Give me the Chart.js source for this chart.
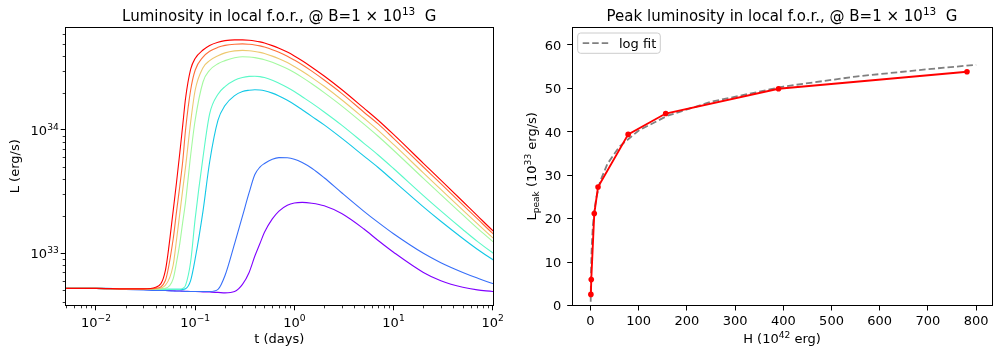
<!DOCTYPE html>
<html>
<head>
<meta charset="utf-8">
<script src="https://cdn.jsdelivr.net/npm/chart.js@4.4.1/dist/chart.umd.min.js"></script>
<style>
  html, body { margin: 0; padding: 0; background: #fff; }
  #wrap { position: relative; width: 996px; height: 354px; overflow: hidden; }
  #leftBox { position: absolute; left: 0; top: 0; width: 520px; height: 354px; }
  #rightBox { position: absolute; left: 520px; top: 0; width: 476px; height: 354px; }
</style>
</head>
<body>
<div id="wrap">
  <div id="leftBox"><canvas id="lumChart" width="520" height="354"></canvas></div>
  <div id="rightBox"><canvas id="peakChart" width="476" height="354"></canvas></div>
</div>
<script>
// === Light curves: t in days, L in units of 1e33 erg/s ===
const times = [0.005, 0.01, 0.02, 0.03, 0.04, 0.05, 0.06, 0.065, 0.07, 0.075, 0.08, 0.09, 0.1, 0.12, 0.14, 0.17, 0.2, 0.25, 0.3,
  0.35, 0.4, 0.45, 0.5, 0.6, 0.7, 0.85, 1, 1.2, 1.5, 2, 3, 5, 7, 10, 20, 30, 50, 70, 100, 110];

const lumPurple = [0.52, 0.52, 0.515, 0.51, 0.505, 0.5, 0.497, 0.495, 0.495, 0.493, 0.492, 0.49, 0.49, 0.487, 0.485, 0.482, 0.478, 0.49, 0.56,
  0.7, 0.95, 1.2, 1.48, 1.9, 2.2, 2.45, 2.56, 2.59, 2.55, 2.43, 2.1, 1.58, 1.27, 1.02, 0.7, 0.6, 0.53, 0.505, 0.49, 0.485];
const lumBlue = [0.52, 0.52, 0.51, 0.505, 0.5, 0.5, 0.495, 0.495, 0.495, 0.495, 0.49, 0.49, 0.49, 0.49, 0.49, 0.51, 0.66, 1.2, 2.0,
  3.1, 4.35, 5.0, 5.35, 5.8, 5.97, 5.95, 5.8, 5.45, 4.9, 4.1, 3.1, 2.2, 1.78, 1.44, 1.0, 0.84, 0.7, 0.63, 0.57, 0.56];
const lumCyan = [0.52, 0.52, 0.515, 0.51, 0.51, 0.51, 0.51, 0.51, 0.51, 0.51, 0.515, 0.6, 0.9, 2.2, 5.5, 12, 15.8, 19, 20.5,
  21.0, 21.2, 21.1, 20.8, 19.9, 18.9, 17.4, 16.1, 14.6, 12.9, 11.0, 8.58, 6.17, 4.96, 3.87, 2.38, 1.82, 1.32, 1.08, 0.89, 0.85];
const lumAqua = [0.52, 0.52, 0.515, 0.51, 0.51, 0.51, 0.51, 0.51, 0.51, 0.52, 0.55, 0.85, 1.9, 6, 13.5, 19.5, 22.5, 25.3, 26.6,
  27.2, 27.3, 27.1, 26.6, 25.3, 23.9, 22.1, 20.5, 18.6, 16.5, 14.0, 10.95, 7.83, 6.27, 4.87, 2.94, 2.21, 1.56, 1.25, 1.01, 0.96];
const lumGreen = [0.52, 0.52, 0.515, 0.515, 0.515, 0.52, 0.62, 0.85, 1.2, 1.8, 2.6, 6.2, 12, 24.5, 30.5, 34.5, 36.5, 38.5, 39.3,
  39.1, 38.6, 37.9, 37.1, 35.4, 33.7, 31.4, 29.2, 26.7, 23.7, 20.1, 15.7, 11.2, 8.89, 6.85, 4.05, 2.99, 2.05, 1.6, 1.25, 1.17];
const lumOrange = [0.52, 0.52, 0.515, 0.515, 0.515, 0.55, 0.8, 1.3, 2.1, 3.3, 5, 11.5, 21, 32, 36.5, 40, 42.2, 43.8, 44.2,
  43.9, 43.3, 42.6, 41.7, 39.7, 37.8, 35.2, 32.7, 29.9, 26.6, 22.6, 17.6, 12.5, 9.93, 7.63, 4.49, 3.3, 2.24, 1.74, 1.34, 1.26];
const lumRedOrange = [0.52, 0.52, 0.515, 0.515, 0.52, 0.6, 1.3, 2.2, 3.5, 5.6, 10, 21, 30.5, 39, 43.5, 46.8, 48.5, 49.6, 49.9,
  49.5, 48.9, 48.1, 47.0, 44.8, 42.7, 39.7, 36.9, 33.8, 30.0, 25.4, 19.8, 14.0, 11.2, 8.56, 5.01, 3.67, 2.47, 1.91, 1.45, 1.36];
const lumRed = [0.52, 0.52, 0.515, 0.515, 0.53, 0.72, 2.2, 3.8, 6.5, 11, 18, 31, 38, 44.5, 48.5, 51.5, 53, 53.8, 53.8,
  53.4, 52.7, 51.8, 50.7, 48.3, 46.0, 42.8, 39.8, 36.4, 32.3, 27.4, 21.3, 15.1, 12.0, 9.2, 5.37, 3.92, 2.63, 2.02, 1.53, 1.43];

const curves = [lumPurple, lumBlue, lumCyan, lumAqua, lumGreen, lumOrange, lumRedOrange, lumRed];
const curveColors = ["#8000ff", "#376ff9", "#12c8e6", "#5bf9c8", "#a4f99f", "#edc86f", "#ff6f39", "#ff0000"];

// === Peak luminosity vs heat (H in 1e42 erg, L in 1e33 erg/s) ===
const heatH = [0.78, 1.56, 7.8, 15.6, 78.1, 156, 390, 781];
const peakL = [2.6, 6.0, 21.2, 27.3, 39.4, 44.2, 49.9, 53.8];
const fitH = [0.45, 0.6, 0.8, 1, 1.5, 2, 3, 5, 8, 12, 20, 35, 60, 100, 160, 250, 400, 550, 700, 800];
const fitL = [0.9, 3.0, 5.1, 6.7, 9.7, 11.8, 14.7, 18.5, 21.9, 24.8, 28.6, 32.6, 36.6, 40.3, 43.7, 46.9, 50.4, 52.7, 54.4, 55.4];

// === Ticks ===
const leftXTicks = [0.01, 0.1, 1, 10, 100];
const leftXExp = ["−2", "−1", "0", "1", "2"];
const leftYTicks = [1, 10];
const leftYExp = ["33", "34"];
const rightXTicks = [0, 100, 200, 300, 400, 500, 600, 700, 800];
const rightYTicks = [0, 10, 20, 30, 40, 50, 60];

const FONT = "'DejaVu Sans', sans-serif";
const TXT = 13;
const TITLE = 15;

// === Rich text (super/subscripts) ===
function drawRich(ctx, parts, x, y, size, rotate, align) {
  ctx.save();
  ctx.translate(x, y);
  if (rotate) ctx.rotate(-Math.PI / 2);
  const fontFor = (kind) => `${kind === "n" ? size : size * 0.7}px ${FONT}`;
  const widths = parts.map(([txt, kind]) => {
    ctx.font = fontFor(kind);
    return ctx.measureText(txt).width;
  });
  const total = widths.reduce((a, b) => a + b, 0);
  let cx = align === "right" ? -total : -total / 2;
  ctx.fillStyle = "#000";
  ctx.textBaseline = "alphabetic";
  ctx.textAlign = "left";
  parts.forEach(([txt, kind], i) => {
    ctx.font = fontFor(kind);
    const dy = kind === "sup" ? -size * 0.4 : kind === "sub" ? size * 0.22 : 0;
    ctx.fillText(txt, cx, dy);
    cx += widths[i];
  });
  ctx.restore();
}

// === Titles, axis labels, tick labels ===
const labelsPlugin = {
  id: "labels",
  afterDraw(chart, args, opts) {
    const { ctx, chartArea: a, scales } = chart;
    const cx = (a.left + a.right) / 2;
    const cy = (a.top + a.bottom) / 2;
    drawRich(ctx, opts.title, cx, 20.6, TITLE, false);
    drawRich(ctx, opts.xLabel, cx, 343.2, TXT, false);
    drawRich(ctx, opts.yLabel, opts.yLabelX, cy, TXT, true);
    opts.xTicks.forEach(([v, parts]) => {
      drawRich(ctx, parts, scales.x.getPixelForValue(v), opts.xTickBase, TXT, false);
    });
    opts.yTicks.forEach(([v, parts]) => {
      const py = scales.y.getPixelForValue(v) + TXT * 0.364;
      drawRich(ctx, parts, a.left - opts.yTickGap, py, TXT, false, "right");
    });
  },
};

// === Frame, minor ticks, legend ===
const framePlugin = {
  id: "frame",
  afterDraw(chart, args, opts) {
    const { ctx, chartArea: a, scales } = chart;
    const L = Math.floor(a.left) + 0.5;
    const T = Math.floor(a.top) + 0.5;
    const R = Math.floor(a.right) + 0.5;
    const B = Math.floor(a.bottom) + 0.5;
    ctx.save();
    ctx.strokeStyle = "#000";
    ctx.lineWidth = 1;
    ctx.strokeRect(L, T, R - L, B - T);

    ctx.lineWidth = 0.8;
    (opts.minorX || []).forEach((v) => {
      const px = Math.round(scales.x.getPixelForValue(v)) + 0.5;
      ctx.beginPath();
      ctx.moveTo(px, B);
      ctx.lineTo(px, B + 2.8);
      ctx.stroke();
    });
    (opts.minorY || []).forEach((v) => {
      const py = Math.round(scales.y.getPixelForValue(v)) + 0.5;
      ctx.beginPath();
      ctx.moveTo(L, py);
      ctx.lineTo(L - 2.8, py);
      ctx.stroke();
    });

    if (opts.legend) {
      const lx = a.left + 5.7;
      const ly = a.top + 6;
      const w = 82.6;
      const h = 20.3;
      ctx.fillStyle = "rgba(255,255,255,0.8)";
      ctx.strokeStyle = "#cccccc";
      ctx.lineWidth = 1;
      ctx.beginPath();
      ctx.roundRect(lx, ly, w, h, 3);
      ctx.fill();
      ctx.stroke();
      ctx.strokeStyle = "#808080";
      ctx.lineWidth = 1.8;
      ctx.setLineDash([6.5, 3]);
      ctx.beginPath();
      ctx.moveTo(lx + 5, ly + h / 2);
      ctx.lineTo(lx + 31.5, ly + h / 2);
      ctx.stroke();
      ctx.setLineDash([]);
      ctx.fillStyle = "#000";
      ctx.font = `${TXT}px ${FONT}`;
      ctx.textBaseline = "alphabetic";
      ctx.fillText(opts.legend, lx + 41.3, ly + 15.2);
    }
    ctx.restore();
  },
};

function logMinors(lo, hi) {
  const out = [];
  for (let d = 0.001; d < 1000; d *= 10) {
    for (let m = 2; m <= 9; m++) {
      const v = +(m * d).toPrecision(3);
      if (v >= lo && v <= hi) out.push(v);
    }
  }
  return out;
}

function fixedAxis(size, horizontal) {
  return (scale) => {
    if (horizontal) scale.height = size;
    else scale.width = size;
    scale.paddingLeft = 0;
    scale.paddingRight = 0;
    scale.paddingTop = 0;
    scale.paddingBottom = 0;
  };
}

function axisOpts(type, min, max, size, horizontal, tickValues) {
  return {
    type,
    min,
    max,
    grid: {
      display: true,
      drawOnChartArea: false,
      drawTicks: true,
      tickLength: 4.8,
      tickColor: "#000",
      tickWidth: 1,
    },
    border: { display: false },
    afterFit: fixedAxis(size, horizontal),
    afterBuildTicks: (s) => { s.ticks = tickValues.map((v) => ({ value: v })); },
    ticks: { display: false, autoSkip: false },
  };
}

// === Left chart: light curves ===
function renderLumChart() {
  const xMin = 0.00493, xMax = 100.7, yMin = 0.3774, yMax = 68.4;
  const datasets = curves.map((vals, i) => ({
    data: times.map((t, k) => ({ x: t, y: vals[k] })),
    borderColor: curveColors[i],
    borderWidth: 1.1,
    pointRadius: 0,
    cubicInterpolationMode: "monotone",
    fill: false,
    order: curves.length - 1 - i,
  }));

  new Chart(document.getElementById("lumChart"), {
    type: "line",
    data: { datasets },
    options: {
      responsive: false,
      animation: false,
      events: [],
      layout: { padding: { left: 0, right: 27, top: 27, bottom: 0 } },
      plugins: {
        legend: { display: false },
        tooltip: { enabled: false },
        labels: {
          title: [["Luminosity in local f.o.r., @ B=1 × 10", "n"], ["13", "sup"], ["  G", "n"]],
          xLabel: [["t (days)", "n"]],
          yLabel: [["L (erg/s)", "n"]],
          yLabelX: 18.5,
          xTicks: leftXTicks.map((v, i) => [v, [["10", "n"], [leftXExp[i], "sup"]]]),
          xTickBase: 326.5,
          yTicks: leftYTicks.map((v, i) => [v, [["10", "n"], [leftYExp[i], "sup"]]]),
          yTickGap: 6.8,
        },
        frame: { minorX: logMinors(xMin, xMax), minorY: logMinors(yMin, yMax) },
      },
      scales: {
        x: axisOpts("logarithmic", xMin, xMax, 48.5, true, leftXTicks),
        y: axisOpts("logarithmic", yMin, yMax, 65.5, false, leftYTicks),
      },
    },
    plugins: [labelsPlugin, framePlugin],
  });
}

// === Right chart: peak luminosity ===
function renderPeakChart() {
  new Chart(document.getElementById("peakChart"), {
    type: "line",
    data: {
      datasets: [
        {
          data: heatH.map((h, i) => ({ x: h, y: peakL[i] })),
          borderColor: "#ff0000",
          backgroundColor: "#ff0000",
          borderWidth: 1.9,
          pointRadius: 2.8,
          pointBorderWidth: 0,
          tension: 0,
          order: 0,
        },
        {
          data: fitH.map((h, i) => ({ x: h, y: fitL[i] })),
          borderColor: "#808080",
          borderWidth: 1.8,
          borderDash: [6.5, 3],
          pointRadius: 0,
          tension: 0,
          order: 1,
        },
      ],
    },
    options: {
      responsive: false,
      animation: false,
      events: [],
      layout: { padding: { left: 0, right: 0, top: 27, bottom: 0 } },
      plugins: {
        legend: { display: false },
        tooltip: { enabled: false },
        labels: {
          title: [["Peak luminosity in local f.o.r., @ B=1 × 10", "n"], ["13", "sup"], ["  G", "n"]],
          xLabel: [["H (10", "n"], ["42", "sup"], [" erg)", "n"]],
          yLabel: [["L", "n"], ["peak", "sub"], [" (10", "n"], ["33", "sup"], [" erg/s)", "n"]],
          yLabelX: 16,
          xTicks: rightXTicks.map((v) => [v, [[String(v), "n"]]]),
          xTickBase: 325.3,
          yTicks: rightYTicks.map((v) => [v, [[String(v), "n"]]]),
          yTickGap: 10.8,
        },
        frame: { legend: "log fit" },
      },
      scales: {
        x: axisOpts("linear", -38.4, 832.9, 48.3, true, rightXTicks),
        y: axisOpts("linear", 0, 64.1, 52, false, rightYTicks),
      },
    },
    plugins: [labelsPlugin, framePlugin],
  });
}

document.addEventListener("DOMContentLoaded", () => {
  renderLumChart();
  renderPeakChart();
});
</script>
</body>
</html>
